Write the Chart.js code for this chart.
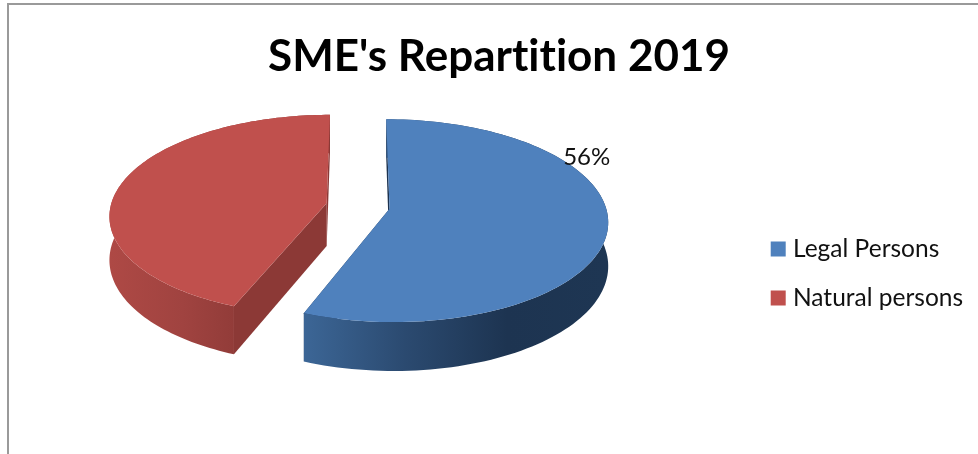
<!DOCTYPE html>
<html>
<head>
<meta charset="utf-8">
<title>SME's Repartition 2019</title>
<script src="https://cdn.jsdelivr.net/npm/chart.js@4"></script>
<style>
  html, body { margin: 0; padding: 0; background: #fff; overflow: hidden; }
  #frame { position: absolute; left: 7px; top: 3px; width: 1100px; height: 600px; border: 2px solid #9a9a9a; }
  #wrap { position: absolute; left: 0; top: 0; width: 978px; height: 454px; }
</style>
</head>
<body>
<div id="frame"></div>
<div id="wrap"><canvas id="pie" width="978" height="454"></canvas></div>
<script>
const categories = ["Legal Persons", "Natural persons"];
const shares = [56, 44];
const labelledSlices = [0]; // only the first slice carries a value label

const topColors = ["#4f81bd", "#c0504d"];
const wallStops = [
  ["#3c6696", "#2b4a70", "#1d3451", "#1e3653"],
  ["#ae4945", "#a04340", "#8c3936", "#8a3835"]
];
const faceColors = ["#1c324f", "#8c3936"];

// fake 3D view of the flat arcs
const view = { centerX: 358, centerY: 206, flatten: 0.46, perspective: 0.117, depth: 43 };
const label = { angle: -0.51, radius: 1.12 };

function project(chartArc, u, v, lift) {
  const R = chartArc.outerRadius;
  const s = 1 / (1 - view.perspective * v / R);
  return {
    x: view.centerX + u * s,
    y: view.centerY + s * (view.flatten * v + lift * view.depth)
  };
}

// point on a slice: r is a fraction of the radius, the slice is moved out along its mid angle
function slicePoint(arc, angle, r, lift) {
  const mid = (arc.startAngle + arc.endAngle) / 2;
  const out = arc.options.offset / 4;
  const u = Math.cos(mid) * out + Math.cos(angle) * arc.outerRadius * r;
  const v = Math.sin(mid) * out + Math.sin(angle) * arc.outerRadius * r;
  return project(arc, u, v, lift);
}

function rimPoints(arc, lift) {
  const pts = [];
  const steps = 120;
  for (let i = 0; i <= steps; i++) {
    const a = arc.startAngle + (arc.endAngle - arc.startAngle) * i / steps;
    pts.push(slicePoint(arc, a, 1, lift));
  }
  return pts;
}

function fillPoly(ctx, pts, fill) {
  ctx.beginPath();
  pts.forEach((p, i) => (i ? ctx.lineTo(p.x, p.y) : ctx.moveTo(p.x, p.y)));
  ctx.closePath();
  ctx.fillStyle = fill;
  ctx.fill();
}

function drawSlice(ctx, arc, index) {
  const top = rimPoints(arc, 0);
  const bottom = rimPoints(arc, 1);
  const apexTop = slicePoint(arc, 0, 0, 0);
  const apexBottom = slicePoint(arc, 0, 0, 1);

  // cut faces
  fillPoly(ctx, [apexTop, top[0], bottom[0], apexBottom], faceColors[index]);
  fillPoly(ctx, [apexTop, top[top.length - 1], bottom[bottom.length - 1], apexBottom], faceColors[index]);

  // outer wall, shaded left to right
  const xs = top.map(p => p.x);
  const grad = ctx.createLinearGradient(Math.min(...xs), 0, Math.max(...xs), 0);
  wallStops[index].forEach((c, i, all) => grad.addColorStop(i / (all.length - 1), c));
  fillPoly(ctx, top.concat(bottom.slice().reverse()), grad);

  // top face
  fillPoly(ctx, [apexTop].concat(top), arc.options.backgroundColor);
}

const pie3d = {
  id: "pie3d",
  beforeDraw(chart) {
    // a tiny spacing keeps the "ti" in the title from joining up
    chart.ctx.letterSpacing = "0.01px";
  },
  beforeDatasetDraw(chart, args) {
    const ctx = chart.ctx;
    const arcs = args.meta.data;
    ctx.save();
    // back slice first so the front one sits on top
    arcs.map((arc, i) => [arc, i]).reverse().forEach(([arc, i]) => drawSlice(ctx, arc, i));
    ctx.restore();
    return false;
  },
  afterDatasetsDraw(chart) {
    const ctx = chart.ctx;
    const arcs = chart.getDatasetMeta(0).data;
    const total = shares.reduce((a, b) => a + b, 0);
    ctx.save();
    ctx.font = "24px Lato";
    ctx.fillStyle = "#111";
    ctx.textAlign = "center";
    ctx.textBaseline = "middle";
    labelledSlices.forEach(i => {
      const p = slicePoint(arcs[i], label.angle, label.radius, 0);
      ctx.fillText(Math.round(shares[i] / total * 100) + "%", p.x, p.y);
    });
    ctx.restore();
  }
};

new Chart(document.getElementById("pie"), {
  type: "pie",
  data: {
    labels: categories,
    datasets: [{
      data: shares,
      backgroundColor: topColors,
      borderWidth: 0,
      offset: 128,
      radius: 216
    }]
  },
  options: {
    responsive: false,
    animation: false,
    layout: { padding: { left: 25, right: 5 } },
    plugins: {
      tooltip: { enabled: false },
      title: {
        display: true,
        text: "SME's Repartition 2019",
        color: "#000",
        font: { family: "Lato", size: 44, weight: "bold" },
        padding: { top: 30, bottom: 10 }
      },
      legend: {
        position: "right",
        fullSize: false,
        onClick: null,
        labels: {
          usePointStyle: true,
          pointStyle: "rect",
          boxWidth: 5,
          boxHeight: 15,
          padding: 24.5,
          color: "#111",
          font: { family: "Lato", size: 24.5 }
        }
      }
    }
  },
  plugins: [pie3d]
});
</script>
</body>
</html>
